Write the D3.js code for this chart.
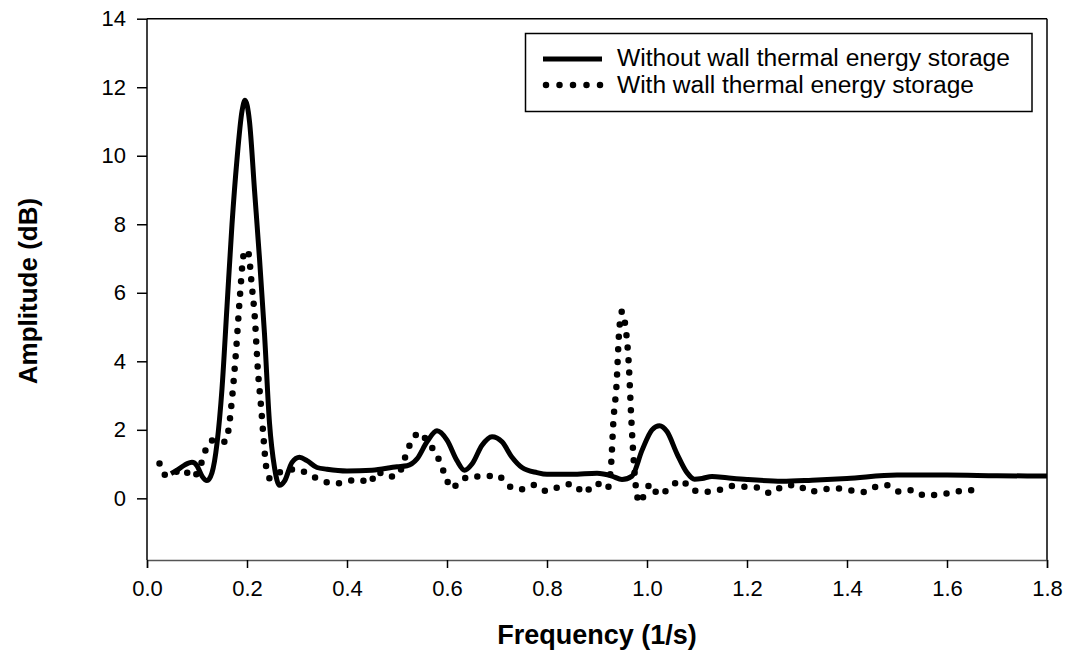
<!DOCTYPE html>
<html>
<head>
<meta charset="utf-8">
<script src="https://cdn.jsdelivr.net/npm/d3@7"></script>
<style>
  html, body { margin: 0; padding: 0; background: #fff; }
  svg { display: block; font-family: "Liberation Sans", Arial, sans-serif; }
</style>
</head>
<body>
<svg id="chart" width="1068" height="652"></svg>
<script>
// ---- Data ----
const xTicks = [0.0, 0.2, 0.4, 0.6, 0.8, 1.0, 1.2, 1.4, 1.6, 1.8];
const yTicks = [0, 2, 4, 6, 8, 10, 12, 14];
const seriesNames = ["Without wall thermal energy storage", "With wall thermal energy storage"];

// Without wall thermal energy storage (solid)
const withoutFreq = [0.048,0.06,0.075,0.09,0.1,0.11,0.12,0.13,0.14,0.15,0.16,0.17,0.18,0.19,0.196,0.205,0.215,0.225,0.235,0.245,0.255,0.265,0.275,0.29,0.305,0.32,0.34,0.36,0.4,0.45,0.5,0.52,0.54,0.56,0.58,0.6,0.62,0.635,0.65,0.67,0.69,0.71,0.73,0.75,0.78,0.8,0.85,0.9,0.93,0.95,0.97,0.99,1.01,1.025,1.04,1.06,1.08,1.095,1.11,1.13,1.16,1.2,1.27,1.33,1.4,1.5,1.6,1.7,1.8];
const withoutAmp  = [0.72,0.82,0.97,1.05,0.95,0.65,0.52,0.75,1.6,3.2,5.6,8.0,9.9,11.3,11.62,11.0,9.0,7.0,4.8,2.2,0.9,0.38,0.5,1.05,1.2,1.1,0.9,0.85,0.8,0.82,0.92,0.95,1.15,1.65,1.97,1.7,1.1,0.82,1.0,1.55,1.8,1.65,1.2,0.9,0.75,0.7,0.7,0.73,0.65,0.55,0.65,1.4,2.0,2.12,1.95,1.3,0.75,0.56,0.58,0.64,0.6,0.55,0.5,0.53,0.58,0.68,0.68,0.66,0.65];

// With wall thermal energy storage (dotted)
const withFreq = [0.025,0.037,0.055,0.072,0.091,0.111,0.118,0.133,0.156,0.163,0.17,0.178,0.186,0.193,0.197,0.203,0.209,0.216,0.221,0.228,0.234,0.238,0.246,0.26,0.274,0.299,0.326,0.351,0.378,0.403,0.425,0.446,0.459,0.481,0.501,0.513,0.519,0.529,0.545,0.563,0.579,0.589,0.598,0.608,0.626,0.647,0.673,0.7,0.723,0.747,0.773,0.799,0.825,0.851,0.876,0.893,0.907,0.921,0.928,0.933,0.939,0.944,0.95,0.957,0.964,0.968,0.973,0.978,0.985,0.996,1.007,1.023,1.044,1.068,1.091,1.116,1.143,1.169,1.195,1.221,1.247,1.273,1.299,1.326,1.351,1.378,1.405,1.431,1.454,1.478,1.506,1.531,1.557,1.584,1.611,1.636,1.663];
const withAmp  = [1.02,0.68,0.75,0.85,0.61,1.12,1.44,1.7,1.65,2.0,2.9,4.28,5.93,7.1,7.25,7.15,6.3,5.2,3.9,2.7,1.6,0.95,0.58,0.72,0.8,0.85,0.68,0.51,0.43,0.51,0.55,0.44,0.78,0.63,0.68,1.04,1.33,1.65,1.92,1.6,1.28,0.94,0.61,0.29,0.49,0.65,0.63,0.68,0.37,0.26,0.39,0.21,0.34,0.42,0.15,0.42,0.42,0.29,0.94,2.3,3.3,4.8,5.45,5.0,3.8,2.5,1.2,0.3,-0.13,0.15,0.42,0.1,0.29,0.53,0.24,0.19,0.24,0.36,0.34,0.31,0.15,0.36,0.39,0.19,0.26,0.29,0.24,0.18,0.32,0.39,0.19,0.24,0.07,0.12,0.16,0.24,0.22];

// ---- Layout ----
const W = 1068, H = 652;
const margin = { left: 147, right: 21, top: 18.7, bottom: 92 };
const svg = d3.select("#chart");

const x = d3.scaleLinear().domain([0, 1.8]).range([margin.left, W - margin.right]);
const y = d3.scaleLinear().domain([-1.8, 14]).range([H - margin.bottom, margin.top]);

// Frame (top and right)
svg.append("line").attr("x1", x(0)).attr("x2", x(1.8)).attr("y1", y(14)).attr("y2", y(14))
  .attr("stroke", "#000").attr("stroke-width", 1.5);
svg.append("line").attr("x1", x(1.8)).attr("x2", x(1.8)).attr("y1", y(14)).attr("y2", y(-1.8))
  .attr("stroke", "#000").attr("stroke-width", 1.5);

// X axis
const xAxis = svg.append("g")
  .attr("transform", `translate(0,${y(-1.8)})`)
  .call(d3.axisBottom(x).tickValues(xTicks).tickFormat(d3.format(".1f")).tickSize(8).tickPadding(12));
xAxis.select(".domain").attr("stroke", "#555").attr("stroke-width", 1.5);
xAxis.selectAll(".tick line").attr("stroke", "#000").attr("stroke-width", 1.5);
xAxis.selectAll(".tick text").attr("font-size", 22).attr("fill", "#000")
  .attr("font-family", "'Liberation Sans', Arial, sans-serif");

// Y axis
const yAxis = svg.append("g")
  .attr("transform", `translate(${x(0)},0)`)
  .call(d3.axisLeft(y).tickValues(yTicks).tickSize(10).tickPadding(11));
yAxis.select(".domain").attr("stroke", "#000").attr("stroke-width", 1.5)
  .attr("d", `M0,${y(14)}V${y(-1.8)}`);
yAxis.selectAll(".tick line").attr("stroke", "#000").attr("stroke-width", 1.5);
yAxis.selectAll(".tick text").attr("font-size", 22).attr("fill", "#000")
  .attr("font-family", "'Liberation Sans', Arial, sans-serif");

// Axis titles
svg.append("text")
  .attr("x", (x(0) + x(1.8)) / 2).attr("y", 644)
  .attr("text-anchor", "middle").attr("font-size", 27).attr("font-weight", "bold")
  .text("Frequency (1/s)");
svg.append("text")
  .attr("transform", `translate(37,${291}) rotate(-90)`)
  .attr("text-anchor", "middle").attr("font-size", 26).attr("font-weight", "bold")
  .text("Amplitude (dB)");

// Lines
const withoutData = withoutFreq.map((f, i) => [f, withoutAmp[i]]);
const withData = withFreq.map((f, i) => [f, withAmp[i]]);

const lineGen = d3.line().x(d => x(d[0])).y(d => y(d[1])).curve(d3.curveMonotoneX);

svg.append("path").datum(withData)
  .attr("d", lineGen)
  .attr("fill", "none").attr("stroke", "#000")
  .attr("stroke-width", 6.5).attr("stroke-linecap", "round")
  .attr("stroke-dasharray", "0 12.5");

svg.append("path").datum(withoutData)
  .attr("d", lineGen)
  .attr("fill", "none").attr("stroke", "#000")
  .attr("stroke-width", 5).attr("stroke-linejoin", "round");

// Legend
const lg = svg.append("g");
lg.append("rect").attr("x", 525.5).attr("y", 33.5).attr("width", 506.5).attr("height", 78)
  .attr("fill", "#fff").attr("stroke", "#000").attr("stroke-width", 1.5);
lg.append("line").attr("x1", 543).attr("x2", 602).attr("y1", 59).attr("y2", 59)
  .attr("stroke", "#000").attr("stroke-width", 5);
lg.append("line").attr("x1", 546).attr("x2", 601).attr("y1", 85).attr("y2", 85)
  .attr("stroke", "#000").attr("stroke-width", 6.5).attr("stroke-linecap", "round")
  .attr("stroke-dasharray", "0 13.5");
lg.append("text").attr("x", 617).attr("y", 66).attr("font-size", 23)
  .attr("textLength", 393).attr("lengthAdjust", "spacingAndGlyphs").text(seriesNames[0]);
lg.append("text").attr("x", 617).attr("y", 92.5).attr("font-size", 23)
  .attr("textLength", 357).attr("lengthAdjust", "spacingAndGlyphs").text(seriesNames[1]);
</script>
</body>
</html>
